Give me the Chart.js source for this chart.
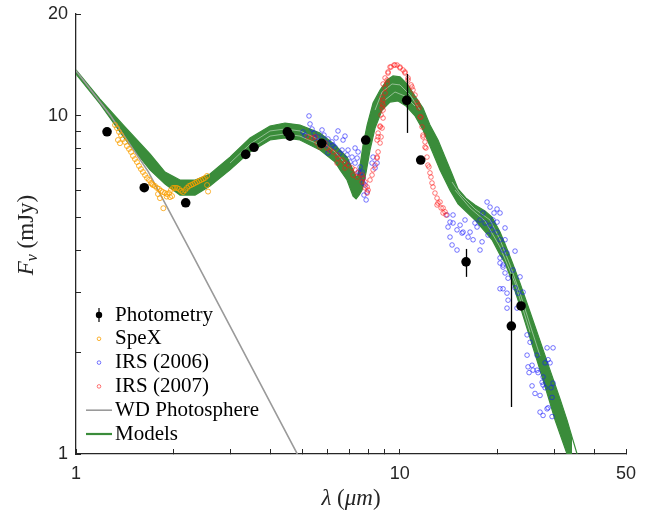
<!DOCTYPE html>
<html>
<head>
<meta charset="utf-8">
<title>SED</title>
<script src="https://cdn.jsdelivr.net/npm/chart.js@4.4.1/dist/chart.umd.min.js"></script>
<style>
  html, body { margin: 0; padding: 0; background: #fff; }
  #wrap { width: 654px; height: 513px; }
</style>
</head>
<body>
<div id="wrap"><canvas id="sed" width="654" height="513"></canvas></div>
<script>
// axis ticks
const xTickVals = [1, 2, 3, 4, 5, 6, 7, 8, 9, 10, 20, 30, 40, 50];
const xLabelVals = [1, 10, 50];
const yTickVals = [1, 2, 3, 4, 5, 6, 7, 8, 9, 10, 20];
const yLabelVals = [1, 10, 20];

// photometry (um, mJy) with error bars where they show
const photLam  = [1.247, 1.625, 2.182, 3.344, 3.547, 4.496, 4.583, 5.741, 7.85, 10.51, 11.61, 16.03, 22.12, 23.70];
const photFlux = [8.97, 6.13, 5.53, 7.69, 8.07, 8.97, 8.71, 8.29, 8.48, 11.11, 7.40, 3.70, 2.39, 2.74];
const photLo   = [null, null, null, null, null, null, null, null, null, 8.90, null, 3.34, 1.377, null];
const photHi   = [null, null, null, null, null, null, null, null, null, 13.29, null, 4.04, 3.41, null];

// SpeX spectrum
const spexLam = [1.320, 1.339, 1.358, 1.377, 1.397, 1.417, 1.437, 1.458, 1.479, 1.500, 1.521, 1.543, 1.565, 1.587,
  1.610, 1.634, 1.657, 1.681, 1.705, 1.729, 1.754, 1.779, 1.804, 1.830, 1.856, 1.884, 1.910, 1.938, 1.965, 1.994,
  2.022, 2.051, 2.080, 2.110, 2.141, 2.172, 2.203, 2.234, 2.267, 2.299, 2.332, 2.365, 2.399, 2.433, 2.468, 2.503,
  2.540, 1.861, 1.817, 1.906, 2.558, 2.540, 1.348, 1.367, 1.980, 1.792, 1.717, 1.952];
const spexFlux = [9.39, 9.20, 8.96, 8.77, 8.54, 8.37, 8.14, 7.98, 7.82, 7.61, 7.45, 7.30, 7.11, 6.96,
  6.82, 6.68, 6.55, 6.46, 6.33, 6.24, 6.20, 6.12, 6.08, 6.00, 5.95, 5.91, 5.87, 5.91, 6.03, 6.12,
  6.12, 6.12, 6.08, 6.00, 5.95, 6.03, 6.12, 6.20, 6.24, 6.28, 6.33, 6.37, 6.42, 6.46, 6.50, 6.55,
  6.64, 5.33, 5.71, 5.77, 5.97, 6.24, 8.48, 8.30, 5.79, 5.87, 6.28, 5.75];

// IRS 2006
const irs06Lam = [5.245, 5.283, 5.359, 5.436, 5.592, 5.836, 6.004, 6.177, 6.447, 6.776, 6.311, 6.634, 6.923, 7.279,
  7.124, 7.384, 7.279, 7.544, 7.653, 7.708, 7.818, 7.931, 6.004, 5.475, 5.673, 5.919, 6.222, 6.540, 6.874, 7.023,
  7.437, 8.511, 8.390, 8.272, 8.213, 7.437, 7.544, 7.708, 6.682, 5.754, 6.357, 7.755, 7.874, 5.026, 5.098,
  18.61, 19.01, 19.98, 20.41, 19.56, 18.08, 17.70, 18.34, 19.01, 19.98, 19.28, 19.98, 20.41, 20.85, 20.41, 21.45,
  22.71, 20.85, 22.39, 23.53, 15.91, 15.36, 14.61, 14.30, 14.10, 15.03, 15.69, 16.49, 16.26, 16.85, 14.30, 14.51,
  15.03, 15.58, 17.33, 17.96, 17.70, 14.61, 14.00, 17.08, 18.74, 19.42, 21.15, 21.15,
  20.41, 20.85, 21.15, 21.61, 20.41, 20.85, 21.45, 21.61, 21.45, 22.71, 23.20, 24.04, 23.03, 24.74, 25.27, 24.74,
  24.91, 25.63, 25.81, 26.56, 26.75, 25.09, 25.63, 26.18, 27.13, 27.53, 27.72, 28.12, 27.13, 27.72, 29.55, 28.52,
  29.76, 28.73, 29.13, 28.12, 29.76, 29.34, 29.55, 28.73, 26.56, 27.72, 28.52];
const irs06Flux = [9.99, 9.46, 9.14, 8.89, 8.66, 8.77, 8.54, 8.37, 9.02, 8.71, 8.08, 7.92, 7.92, 8.03,
  7.55, 7.50, 7.25, 7.06, 6.82, 6.55, 6.24, 5.95, 7.76, 8.60, 8.37, 8.20, 8.20, 7.76, 7.66, 7.30,
  6.82, 7.25, 7.01, 7.55, 7.25, 7.82, 6.78, 6.33, 8.48, 9.08, 8.60, 5.83, 5.64, 8.96, 8.77,
  5.56, 5.37, 5.30, 5.16, 5.16, 5.16, 4.92, 4.82, 4.75, 4.85, 4.60, 4.53, 4.30, 4.01, 3.80, 3.93,
  3.98, 3.57, 3.50, 3.34, 4.92, 4.75, 4.82, 4.85, 4.69, 4.60, 4.53, 4.53, 4.38, 4.30, 4.38, 4.15,
  4.01, 4.50, 4.69, 4.24, 4.01, 5.09, 5.09, 4.82, 4.44, 4.92, 4.66, 4.30,
  3.67, 3.62, 3.43, 3.31, 3.08, 3.08, 2.99, 2.85, 2.70, 3.10, 2.99, 3.01, 2.70, 2.25, 2.14, 1.96,
  1.81, 1.83, 1.77, 1.77, 1.74, 1.74, 1.59, 1.51, 1.49, 1.63, 1.60, 1.57, 1.33, 1.30, 1.29, 2.06,
  2.06, 1.90, 1.86, 1.86, 1.62, 1.57, 1.47, 1.37, 1.96, 1.69, 1.36];

// IRS 2007
const irs07Lam = [5.208, 5.359, 5.475, 5.553, 5.673, 5.877, 5.961, 6.090, 6.222, 6.401, 6.447, 6.634, 6.776, 6.923,
  7.124, 7.279, 7.437, 7.653, 7.708, 7.818, 7.931, 7.988, 6.401, 6.776, 7.176, 7.384, 7.653, 8.094, 8.213, 8.272,
  8.390, 8.511, 8.573, 8.696, 8.757, 8.820, 8.883, 8.883, 7.931, 7.818, 8.511, 8.573, 8.696, 8.757, 8.883,
  8.820, 8.883, 9.009, 9.139, 9.204, 9.400, 9.603, 9.811, 10.02, 10.24, 10.38, 10.61, 10.84, 10.99, 11.15, 11.31,
  11.47, 11.63, 11.72, 11.80, 11.97, 12.05, 12.14, 12.31, 12.49, 12.67, 12.85, 13.04, 13.13, 13.42, 13.61, 13.90,
  8.696, 8.573, 8.511, 8.820, 9.009, 9.139, 9.204, 9.333, 9.67, 10.02, 10.38, 10.61, 10.91, 11.39, 11.55, 11.80,
  11.97, 12.22, 12.40, 12.58, 13.32, 13.80, 13.04, 13.61, 8.883, 9.009, 8.820];
const irs07Flux = [8.66, 8.60, 8.66, 8.31, 8.08, 8.31, 8.03, 7.92, 7.82, 7.66, 7.50, 7.40, 7.25, 7.15,
  7.01, 6.92, 6.78, 6.68, 6.55, 6.37, 6.16, 6.03, 7.25, 7.01, 6.68, 6.59, 6.37, 6.46, 6.68, 6.92,
  7.15, 7.50, 7.82, 8.31, 8.66, 9.20, 9.85, 10.40, 5.91, 6.12, 7.55, 8.66, 9.33, 10.06, 10.76,
  10.55, 11.14, 12.08, 12.76, 13.48, 13.94, 14.13, 14.13, 13.85, 13.66, 13.38, 12.76, 12.34, 11.92, 11.52, 10.98,
  10.55, 9.92, 9.27, 8.77, 8.37, 8.03, 7.55, 7.06, 6.59, 6.16, 5.91, 5.71, 5.52, 5.34, 5.16, 5.09,
  9.27, 8.89, 8.48, 10.91, 11.68, 12.50, 13.38, 13.94, 14.13, 13.94, 13.48, 12.94, 12.17, 10.76, 9.92, 8.66,
  8.08, 7.15, 6.78, 6.33, 5.56, 5.20, 5.45, 5.34, 12.42, 12.94, 11.36];

// white dwarf photosphere
const wdLam  = [1.000, 1.274, 1.673, 2.250, 4.807, 5.000];
const wdFlux = [13.6, 10.06, 6.83, 4.01, 1.007, 0.93];

// envelope of the model grid
const modelHighLam = [1.000, 1.186, 1.417, 1.693, 1.884, 2.096, 2.332, 2.594, 2.990, 3.448, 3.975, 4.422, 4.920,
  5.673, 6.311, 6.874, 7.176, 7.384, 7.544, 7.708, 7.931, 8.272, 8.696, 9.139, 9.535, 10.02, 10.53, 11.15, 11.80,
  12.40, 13.13, 13.80, 14.51, 15.14, 16.03, 17.08, 18.34, 19.28, 20.41, 21.15, 22.23, 23.53, 25.27, 27.13, 29.13,
  31.28, 32.87, 35.30, 36.59];
const modelHigh = [13.66, 11.21, 9.27, 7.71, 6.82, 6.46, 6.46, 6.73, 7.55, 8.60, 9.33, 9.52, 9.39,
  8.89, 8.20, 7.55, 6.92, 6.55, 7.15, 8.20, 9.39, 10.91, 11.92, 12.76, 13.12, 13.03, 12.42, 11.44, 10.55,
  9.39, 8.48, 7.55, 6.73, 6.08, 5.71, 5.45, 5.23, 5.02, 4.53, 4.18, 3.70, 3.20, 2.63, 2.16, 1.77,
  1.454, 1.26, 1.0, 0.897];
const modelLowLam = [1.000, 1.186, 1.417, 1.693, 1.884, 2.096, 2.332, 2.594, 2.990, 3.448, 3.975, 4.422, 4.920,
  5.673, 6.311, 6.540, 6.874, 7.176, 7.331, 7.487, 7.653, 7.874, 8.094, 8.390, 8.820, 9.333, 9.878, 10.46, 11.15,
  11.80, 12.40, 13.32, 14.30, 15.14, 17.08, 19.28, 20.41, 21.15, 21.92, 23.53, 25.27, 27.13, 29.13, 30.19, 32.87,
  34.06];
const modelLow = [13.29, 10.84, 8.54, 6.92, 6.28, 5.83, 5.83, 6.20, 6.92, 7.82, 8.48, 8.60, 8.48,
  7.92, 7.30, 6.92, 6.46, 5.79, 5.68, 5.83, 6.03, 6.82, 7.92, 9.20, 10.40, 10.98, 11.06, 10.69, 9.99,
  9.08, 8.14, 6.92, 6.03, 5.49, 4.92, 4.30, 3.88, 3.67, 3.36, 2.74, 2.20, 1.77, 1.415, 1.26, 1.0,
  0.897];

// two individual models that show as pale streaks inside the band (null = break)
const streakALam = [2.990, 3.448, 3.975, 4.422, 4.920, 5.673, 6.311, 6.776, null,
  8.390, 8.820, 9.468, 10.02, 10.76, 11.55, null,
  14.51, 15.36, 17.08, 19.01, 20.41, 21.92, 23.53, 25.27, 27.13];
const streakA = [7.25, 8.25, 9.02, 9.14, 9.02, 8.48, 7.82, 7.25, null,
  10.40, 11.76, 12.42, 12.34, 11.52, 10.40, null,
  6.37, 5.87, 5.30, 4.92, 4.30, 3.62, 2.99, 2.41, 1.95];
const streakBLam = [3.448, 3.975, 4.422, 4.920, 5.673, null,
  9.009, 9.67, 10.38, 11.15, null,
  14.82, 16.49, 18.34, 20.41, 22.71, 25.27];
const streakB = [7.98, 8.71, 8.84, 8.71, 8.20, null,
  11.14, 11.76, 11.44, 10.69, null,
  6.03, 5.34, 4.89, 4.09, 3.20, 2.29];

const GREEN = '#3a8c3a';
const INK = '#262626';
const SERIF = '"Liberation Serif", "Times New Roman", serif';
const SANS = '"Liberation Sans", Arial, sans-serif';

const toPts = (xs, ys) => xs.map((x, i) => ({x: x, y: ys[i]}));

function openMarkers(label, lam, flux, color, order, radius) {
    return {
        label: label,
        data: toPts(lam, flux),
        pointStyle: 'circle',
        pointRadius: radius || 2.3,
        pointBorderWidth: 0.9,
        pointBorderColor: color,
        pointBackgroundColor: 'rgba(0,0,0,0)',
        order: order,
        legendMark: 'circle'
    };
}

function streak(label, lam, flux) {
    return {
        label: label,
        data: toPts(lam, flux),
        showLine: true,
        spanGaps: false,
        borderColor: 'rgba(255,255,255,0.5)',
        borderWidth: 0.9,
        pointRadius: 0,
        order: 4.5,
        legendMark: null
    };
}

// the plot box is fixed, so drop the label overhang padding
function fixPadding(scale) {
    scale.paddingTop = 0;
    scale.paddingBottom = 0;
    scale.paddingLeft = 0;
    scale.paddingRight = 0;
}

// error bars, legend and axis titles
const sedDecor = {
    id: 'sedDecor',
    afterDatasetsDraw(chart) {
        const {ctx, scales: {x, y}} = chart;
        ctx.save();
        ctx.strokeStyle = '#000';
        ctx.lineWidth = 1.3;
        photLam.forEach((lam, i) => {
            if (photLo[i] == null) return;
            const px = Math.round(x.getPixelForValue(lam)) + 0.5;
            ctx.beginPath();
            ctx.moveTo(px, y.getPixelForValue(photLo[i]));
            ctx.lineTo(px, y.getPixelForValue(photHi[i]));
            ctx.stroke();
        });
        ctx.restore();
    },
    afterDraw(chart) {
        const ctx = chart.ctx;
        ctx.save();

        // legend, lower left inside the axes
        const rowY0 = 315, rowGap = 23.8, markX = 99, textX = 115;
        ctx.font = '21px ' + SERIF;
        ctx.textBaseline = 'middle';
        ctx.textAlign = 'left';
        chart.data.datasets.filter(d => d.legendMark).forEach((d, i) => {
            const cy = rowY0 + i * rowGap;
            if (d.legendMark === 'errorbar') {
                ctx.strokeStyle = '#000';
                ctx.lineWidth = 1.2;
                ctx.beginPath();
                ctx.moveTo(markX, cy - 7);
                ctx.lineTo(markX, cy + 7);
                ctx.stroke();
                ctx.fillStyle = '#000';
                ctx.beginPath();
                ctx.arc(markX, cy, 3.2, 0, Math.PI * 2);
                ctx.fill();
            } else if (d.legendMark === 'circle') {
                ctx.strokeStyle = d.pointBorderColor;
                ctx.lineWidth = 0.9;
                ctx.beginPath();
                ctx.arc(markX, cy, 1.8, 0, Math.PI * 2);
                ctx.stroke();
            } else {
                ctx.strokeStyle = d.borderColor;
                ctx.lineWidth = d.legendWidth || d.borderWidth;
                ctx.beginPath();
                ctx.moveTo(86, cy);
                ctx.lineTo(112, cy);
                ctx.stroke();
            }
            ctx.fillStyle = '#000';
            ctx.fillText(d.label, textX, cy);
        });

        // x title: lambda (um)
        ctx.textBaseline = 'alphabetic';
        ctx.fillStyle = INK;
        const xParts = [
            {t: '\u03BB', f: 'italic 23px ' + SERIF},
            {t: ' (', f: '23px ' + SERIF},
            {t: '\u03BCm', f: 'italic 23px ' + SERIF},
            {t: ')', f: '23px ' + SERIF}
        ];
        let w = 0;
        xParts.forEach(p => { ctx.font = p.f; p.w = ctx.measureText(p.t).width; w += p.w; });
        let cx = 351 - w / 2;
        xParts.forEach(p => { ctx.font = p.f; ctx.fillText(p.t, cx, 505); cx += p.w; });

        // y title: F_nu (mJy), rotated
        ctx.translate(33, 235);
        ctx.rotate(-Math.PI / 2);
        const yParts = [
            {t: 'F', f: 'italic 23px ' + SERIF, dy: 0},
            {t: '\u03BD', f: 'italic 16px ' + SERIF, dy: 4},
            {t: ' (mJy)', f: '23px ' + SERIF, dy: 0}
        ];
        w = 0;
        yParts.forEach(p => { ctx.font = p.f; p.w = ctx.measureText(p.t).width; w += p.w; });
        cx = -w / 2;
        yParts.forEach(p => { ctx.font = p.f; ctx.fillText(p.t, cx, p.dy); cx += p.w; });

        ctx.restore();
    }
};

const sedChart = new Chart(document.getElementById('sed').getContext('2d'), {
    type: 'scatter',
    data: {
        datasets: [
            {
                label: 'Photometry',
                data: toPts(photLam, photFlux),
                pointRadius: 4.8,
                pointBackgroundColor: '#000',
                pointBorderColor: '#000',
                pointBorderWidth: 0,
                order: 0,
                legendMark: 'errorbar'
            },
            openMarkers('SpeX', spexLam, spexFlux, 'rgba(250,160,0,0.9)', 3, 2.5),
            openMarkers('IRS (2006)', irs06Lam, irs06Flux, 'rgba(20,20,255,0.65)', 2),
            openMarkers('IRS (2007)', irs07Lam, irs07Flux, 'rgba(255,20,20,0.65)', 1),
            {
                label: 'WD Photosphere',
                data: toPts(wdLam, wdFlux),
                showLine: true,
                borderColor: '#9a9a9a',
                borderWidth: 1.6,
                pointRadius: 0,
                order: 4,
                legendMark: 'line'
            },
            {
                label: 'Models',
                data: toPts(modelHighLam, modelHigh),
                showLine: true,
                borderColor: GREEN,
                borderWidth: 1.2,
                legendWidth: 2.2,
                pointRadius: 0,
                order: 5,
                legendMark: 'line'
            },
            {
                label: 'Models lower',
                data: toPts(modelLowLam, modelLow),
                showLine: true,
                borderColor: GREEN,
                borderWidth: 1.2,
                backgroundColor: GREEN,
                fill: '-1',
                pointRadius: 0,
                order: 6,
                legendMark: null
            },
            streak('Model streak A', streakALam, streakA),
            streak('Model streak B', streakBLam, streakB)
        ]
    },
    options: {
        responsive: false,
        animation: false,
        layout: {
            padding: { left: 0, right: 28, top: 14, bottom: 0 }
        },
        plugins: {
            legend: { display: false },
            tooltip: { enabled: false }
        },
        scales: {
            x: {
                type: 'logarithmic',
                position: 'bottom',
                min: 1,
                max: 50,
                afterBuildTicks: scale => { scale.ticks = xTickVals.map(v => ({value: v})); },
                afterFit: scale => { scale.height = 59; fixPadding(scale); },
                ticks: {
                    autoSkip: false,
                    maxRotation: 0,
                    padding: 14,
                    color: INK,
                    font: { family: SANS, size: 18 },
                    callback: value => xLabelVals.includes(value) ? String(value) : ''
                },
                grid: { drawOnChartArea: false, drawTicks: true, tickLength: -5, color: INK, lineWidth: 1 },
                border: { display: true, color: INK, width: 1.3 }
            },
            y: {
                type: 'logarithmic',
                position: 'left',
                min: 1,
                max: 20,
                afterBuildTicks: scale => { scale.ticks = yTickVals.map(v => ({value: v})); },
                afterFit: scale => { scale.width = 76; fixPadding(scale); },
                ticks: {
                    autoSkip: false,
                    padding: 13,
                    color: INK,
                    font: { family: SANS, size: 18 },
                    callback: value => yLabelVals.includes(value) ? String(value) : ''
                },
                grid: { drawOnChartArea: false, drawTicks: true, tickLength: -5, color: INK, lineWidth: 1 },
                border: { display: true, color: INK, width: 1.3 }
            }
        }
    },
    plugins: [sedDecor]
});
</script>
</body>
</html>
